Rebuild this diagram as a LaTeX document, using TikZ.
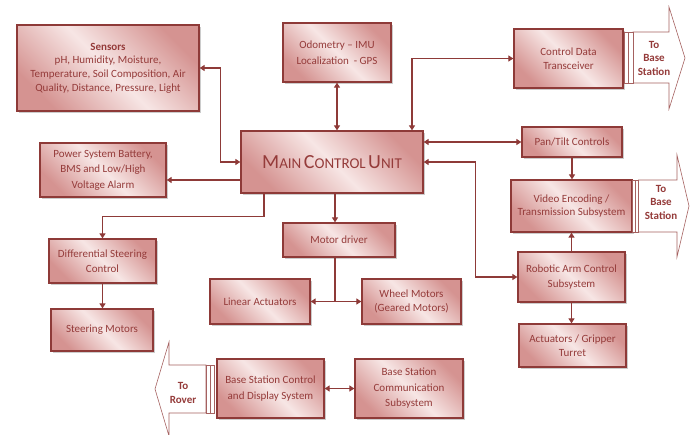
\documentclass[tikz,border=0pt]{standalone}
\usepackage{fontspec}
\setmainfont{Carlito}
\usepackage{tikz}
\usetikzlibrary{arrows.meta,shadows}

\definecolor{rimred}{HTML}{8E3A38}
\definecolor{txtred}{HTML}{953B3A}
\definecolor{shadedark}{HTML}{D59391}
\definecolor{shadelight}{HTML}{F7E6E5}

\newcommand{\scword}[2]{{\fontsize{20}{22}\selectfont #1}{\fontsize{15}{22}\selectfont #2}}

\begin{document}
\begin{tikzpicture}[x=1pt,y=-1pt,
    blk/.style={draw=rimred, line width=1.3pt, text=txtred, align=center, inner sep=1pt,
      top color=shadedark, bottom color=shadedark, middle color=shadelight, shading angle=-45,
      drop shadow={shadow xshift=1.5pt, shadow yshift=-1.5pt, fill=black!50, opacity=.4},
      font=\fontsize{11}{15.5}\selectfont},
    tight/.style={font=\fontsize{11}{13.6}\selectfont},
    conn/.style={draw=rimred, line width=1.5pt, >={Triangle[length=5pt,width=6pt]}},
    bigarr/.style={draw=rimred!80, fill=white, line width=0.6pt},
    arrtxt/.style={text=txtred, align=center, font=\bfseries\fontsize{11}{13.5}\selectfont}]
    \fill[white] (0,0) rectangle (695,434);
    \useasboundingbox (0,0) rectangle (695,434);

    % blocks
    \node[blk,tight,minimum width=182pt,minimum height=86pt] (sens) at (108,68)
      {\textbf{Sensors}\\pH, Humidity, Moisture,\\Temperature, Soil Composition, Air\\Quality, Distance, Pressure, Light};
    \node[blk,minimum width=108pt,minimum height=59pt] (odo) at (337,52.5) {Odometry -- IMU\\Localization\ \ - GPS};
    \node[blk,minimum width=182pt,minimum height=62pt] (main) at (332,162)
      {\scword{M}{AIN} \scword{C}{ONTROL} \scword{U}{NIT}};
    \node[blk,minimum width=126pt,minimum height=54pt] (power) at (103,170) {Power System Battery,\\BMS and Low/High\\Voltage Alarm};
    \node[blk,tight,minimum width=109pt,minimum height=59pt] (cdt) at (568.5,58.5) {Control Data\\Transceiver};
    \node[blk,minimum width=100pt,minimum height=30pt] (pan) at (572,142) {Pan/Tilt Controls};
    \node[blk,tight,minimum width=121pt,minimum height=52pt] (video) at (571.5,206) {Video Encoding /\\Transmission Subsystem};
    \node[blk,minimum width=107pt,minimum height=50pt] (robot) at (571.5,277) {Robotic Arm Control\\Subsystem};
    \node[blk,font=\fontsize{11}{14.3}\selectfont,minimum width=107pt,minimum height=43pt] (act) at (572.5,345.5) {Actuators / Gripper\\Turret};
    \node[blk,minimum width=112pt,minimum height=34pt] (motor) at (339,240) {Motor driver};
    \node[blk,minimum width=100pt,minimum height=45pt] (lin) at (260,301.5) {Linear Actuators};
    \node[blk,tight,minimum width=99pt,minimum height=45pt] (wheel) at (411.5,301.5) {Wheel Motors\\(Geared Motors)};
    \node[blk,minimum width=107pt,minimum height=44pt] (diff) at (102.5,261) {Differential Steering\\Control};
    \node[blk,minimum width=102pt,minimum height=42pt] (steer) at (102,330) {Steering Motors};
    \node[blk,minimum width=107pt,minimum height=59pt] (bsc) at (270.5,388.5) {Base Station Control\\and Display System};
    \node[blk,minimum width=108pt,minimum height=59pt] (comm) at (409,388.5) {Base Station\\Communication\\Subsystem};

    % big arrows
    \draw[bigarr] (633,32) -- (669,32) -- (669,7) -- (685,58) -- (669,109) -- (669,83) -- (633,83) -- cycle;
    \draw[bigarr] (624,32) rectangle (628.5,83);
    \draw[bigarr] (628.5,32) rectangle (633,83);
    \node[arrtxt] (tobs1) at (654,58) {To\\Base\\Station};

    \draw[bigarr] (638.5,180) -- (677,180) -- (677,155) -- (689,206) -- (677,257) -- (677,232) -- (638.5,232) -- cycle;
    \draw[bigarr] (632.5,180) rectangle (635.5,232);
    \draw[bigarr] (635.5,180) rectangle (638.5,232);
    \node[arrtxt] (tobs2) at (661,202) {To\\Base\\Station};

    \draw[bigarr] (206,365) -- (169,365) -- (169,342) -- (155,389) -- (169,436) -- (169,413) -- (206,413) -- cycle;
    \draw[bigarr] (206,365) rectangle (210,413);
    \draw[bigarr] (210,365) rectangle (214,413);
    \node[arrtxt] (torov) at (183,393) {To\\Rover};

    % connectors
    \draw[conn,<->] (sens.east) -- ++(21,0) |- (main.west);
    \coordinate (pwr) at ([yshift=-18pt]main.west);
    \draw[conn,->] (pwr) -- (pwr -| power.east);
    \draw[conn,<->] (odo.south) -- (odo.south |- main.north);
    \coordinate (ctop) at ([xshift=80pt]main.north);
    \draw[conn,<->] (ctop) |- (cdt.west);
    \draw[conn,<->] (main.east |- pan.west) -- (pan.west);
    \draw[conn,->] (pan.south) -- (pan.south |- video.north);
    \draw[conn,->] (robot.north) -- (robot.north |- video.south);
    \draw[conn,->] (robot.south) -- (robot.south |- act.north);
    \draw[conn,<->] (robot.west) -- ++(-42,0) |- (main.east);
    \coordinate (mtop) at ([xshift=3pt]main.south);
    \draw[conn,->] (mtop) -- (mtop |- motor.north);
    \coordinate (dtop) at ([xshift=-68pt]main.south);
    \draw[conn,->] (dtop) -- ++(0,23) -| (diff.north);
    \draw[conn,->] (diff.south) -- (diff.south |- steer.north);
    \coordinate (mj) at (mtop |- lin.east);
    \draw[conn] (mtop |- motor.south) -- (mj);
    \draw[conn,->] (mj) -- (lin.east);
    \draw[conn,->] (mj) -- (wheel.west);
    \draw[conn,<->] (bsc.east) -- (comm.west);
\end{tikzpicture}
\end{document}
